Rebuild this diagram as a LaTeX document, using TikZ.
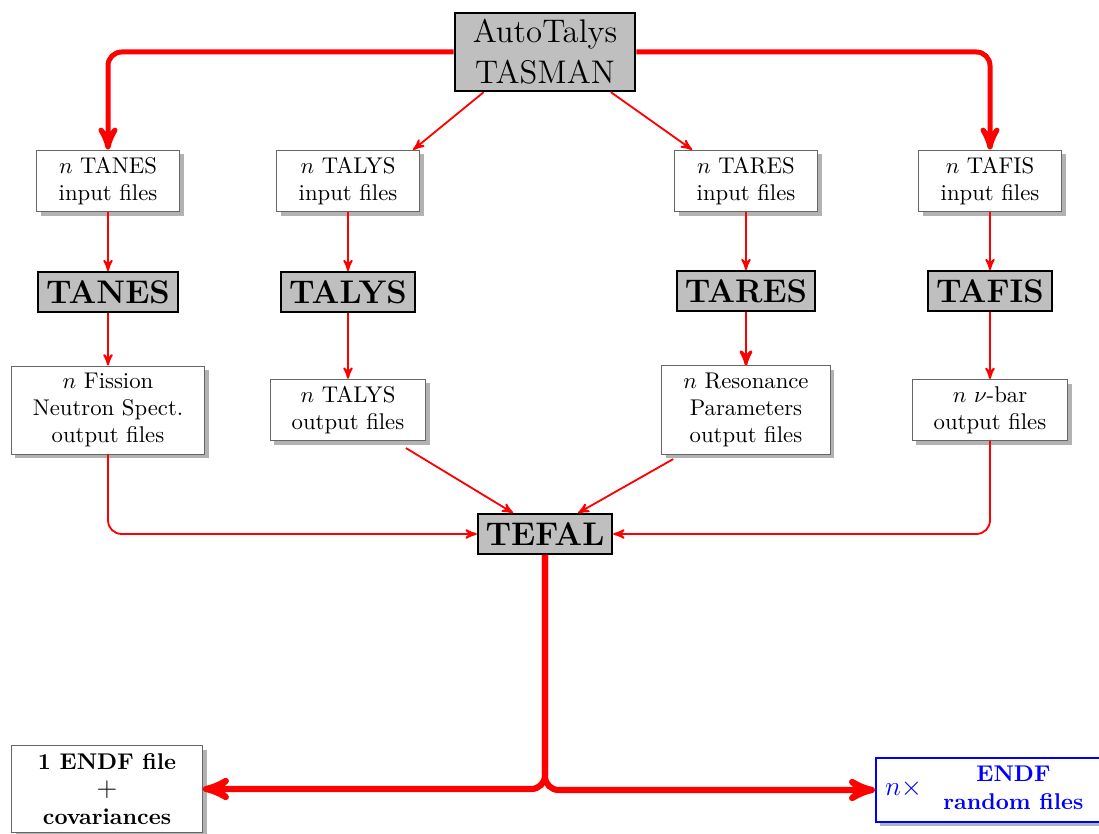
\documentclass[tikz,border=0pt]{standalone}
\usepackage{amssymb,amsmath}
\usetikzlibrary{%
  calc,%
  arrows,%
  shadows%
}

\tikzset{
  filebox/.style={draw=gray!80!black, fill=white, align=center, inner xsep=9.5pt, inner ysep=3pt,
    drop shadow={shadow xshift=1.8pt, shadow yshift=-1.8pt, fill=black!30, opacity=1}},
  codebox/.style={draw=black, thick, fill=gray!50, font=\Large\bfseries, inner xsep=3.5pt, inner ysep=2.5pt, minimum height=17.6pt},
  flow/.style={->, >=stealth', red, thick},
  midflow/.style={->, >=stealth', red, line width=1.3pt},
  bigflow/.style={->, >=stealth', red, line width=2.2pt, rounded corners=6pt},
  hugeflow/.style={->, >=stealth', red, line width=2.7pt, rounded corners=6pt}
}

\begin{document}
\begin{tikzpicture}[x=0.44pt,y=-0.44pt]
\useasboundingbox (0,0) rectangle (1099,834);
% driver
\node[draw=black, thick, fill=gray!50, font=\Large, align=center, inner xsep=8pt, inner ysep=3pt] (tasman) at (545,52) {AutoTalys\\TASMAN};
% input files
\node[filebox, minimum width=63pt] (tanesin) at (108,181) {$n$ TANES\\input files};
\node[filebox, minimum width=63pt] (talysin) at (348,181) {$n$ TALYS\\input files};
\node[filebox, minimum width=63pt] (taresin) at (746,181) {$n$ TARES\\input files};
\node[filebox, minimum width=63pt] (tafisin) at (990,181) {$n$ TAFIS\\input files};
% codes
\node[codebox] (tanes) at (108,292) {TANES};
\node[codebox] (talys) at (348,292) {TALYS};
\node[codebox] (tares) at (746,291) {TARES};
\node[codebox] (tafis) at (990,291) {TAFIS};
% output files
\node[filebox] (tanesout) at (108,410) {$n$ Fission\\Neutron Spect.\\output files};
\node[filebox] (talysout) at (348,410) {$n$ TALYS\\output files};
\node[filebox] (taresout) at (746,410) {$n$ Resonance\\Parameters\\output files};
\node[filebox] (tafisout) at (990,410) {$n$ $\nu$-bar\\output files};
% processing
\node[codebox] (tefal) at (545,534) {TEFAL};
% results
\node[filebox, font=\bfseries, minimum width=84pt, minimum height=38pt] (endf) at (107,789) {1 ENDF file\\{\large$+$}\\covariances};
\node[filebox, draw=blue, thick, text=blue, anchor=west, inner xsep=4pt, inner ysep=2pt] (rnd) at (875,790)
  {{\large$n\times$} \begin{tabular}{c}\bfseries ENDF\\\bfseries random files\end{tabular}};

\draw[bigflow] (tasman.west) -| (tanesin.north);
\draw[bigflow] (tasman.east) -| (tafisin.north);
\draw[flow] ([xshift=-27pt]tasman.south) -- ([xshift=-3pt]talysin.north east);
\draw[flow] ([xshift=29pt]tasman.south) -- ([xshift=8pt]taresin.north west);

\draw[flow] (tanesin) -- (tanes);
\draw[flow] (talysin) -- (talys);
\draw[flow] (taresin) -- (tares);
\draw[flow] (tafisin) -- (tafis);

\draw[flow] (tanes) -- (tanesout);
\draw[flow] (talys) -- (talysout);
\draw[midflow] (tares) -- (taresout);
\draw[flow] (tafis) -- (tafisout);

\draw[flow, rounded corners=6pt] (tanesout.south) |- (tefal.west);
\draw[flow, rounded corners=6pt] (tafisout.south) |- (tefal.east);
\draw[flow] ([xshift=25.5pt, yshift=-3pt]talysout.south) -- ([xshift=-14pt]tefal.north);
\draw[flow] ([xshift=-32pt, yshift=-2pt]taresout.south) -- ([xshift=14.5pt]tefal.north);

\draw[hugeflow] (tefal.south) |- (endf.east);
\draw[hugeflow] (tefal.south) |- (rnd.west);
\end{tikzpicture}
\end{document}
